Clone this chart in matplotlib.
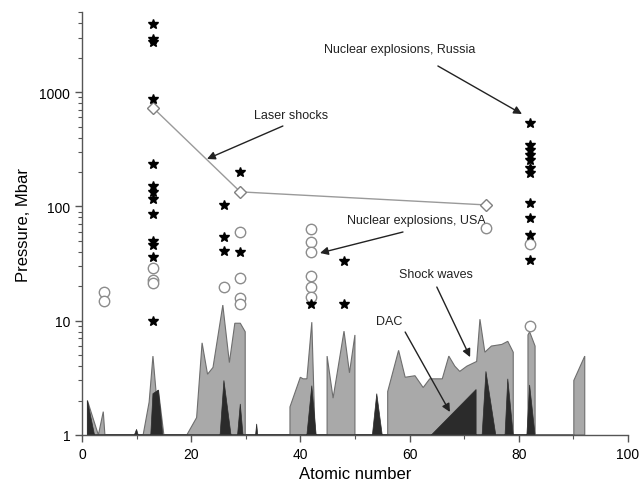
import matplotlib
matplotlib.use("Agg")
import matplotlib.pyplot as plt
import numpy as np
from matplotlib.ticker import FixedLocator, FixedFormatter, LogLocator, NullFormatter, MultipleLocator

plt.rcParams['font.family'] = ['Liberation Sans', 'DejaVu Sans']

# Nuclear explosions (stars)
star_Z = [13]*13 + [26]*3 + [29]*2 + [42] + [48]*2 + [82]*11
star_P = [3940, 2920, 2750, 870, 235, 151, 134, 117, 86, 50, 46, 36, 10,
          103, 54, 41,
          200, 40,
          14,
          33, 14,
          538, 344, 311, 282, 255, 217, 195, 107, 79, 56, 34]

# Nuclear explosions, USA (open circles)
circ_Z = [4, 4, 13, 13, 13, 26, 29, 29, 29, 29, 42, 42, 42, 42, 42, 42, 74, 82, 82]
circ_P = [17.8, 14.9, 29, 22.7, 21.3, 19.7, 60, 23.6, 15.8, 14,
          63, 49, 40, 24.6, 19.7, 16.1, 65, 47, 9.0]

# Laser shocks
laser_Z = [13, 29, 74]
laser_P = [730, 134, 103]

# Shock waves envelope
shock_Z = [1, 1, 3, 3.9, 4.2,
           11.2, 12.3, 13, 13.6, 14, 15,
           19.2, 21, 22, 23, 24, 25.8, 27, 28, 29, 29.9, 29.9,
           38.1, 38.1, 40, 40.5, 41.2, 42.1, 42.7,
           44.9, 44.9, 46, 48, 49, 50, 50,
           56, 56, 58, 59.2, 61, 62.5, 63.7, 65, 66, 67.2, 68.3, 69.2, 70.5, 72.3, 72.9, 73.8, 75, 76.9, 78, 79, 79,
           81.7, 81.7, 82, 83, 83,
           90.1, 90.1, 92.1, 92.1]
shock_P = [1, 2.0, 1, 1.6, 1,
           1, 1.94, 4.9, 2.3, 2.47, 1,
           1, 1.42, 6.4, 3.4, 3.9, 13.7, 4.3, 9.5, 9.5, 8.0, 1,
           1, 1.76, 3.2, 3.1, 3.1, 9.7, 1,
           1, 4.9, 2.1, 8.1, 3.5, 7.5, 1,
           1, 2.4, 5.5, 3.2, 3.3, 2.6, 3.1, 3.1, 3.1, 4.9, 4.0, 3.6, 4.0, 4.4, 10.3, 5.3, 6.0, 6.2, 6.6, 5.3, 1,
           1, 7.5, 8.0, 6.0, 1,
           1, 3.0, 4.9, 1]

# DAC
dac_Z = [1, 1, 2.3,
         9.6, 10, 10.3,
         12.6, 13, 14, 14.8,
         25.3, 26, 27.3,
         28.5, 29, 29.5,
         31.8, 32, 32.2,
         41.2, 42.1, 42.9,
         53.2, 54, 55,
         64, 72.2, 72.2,
         73.3, 74, 75.8,
         77.5, 78, 79,
         81.5, 82, 83]
dac_P = [1, 2.0, 1,
         1, 1.12, 1,
         1, 2.3, 2.47, 1,
         1, 3.0, 1,
         1, 1.87, 1,
         1, 1.25, 1,
         1, 2.7, 1,
         1, 2.3, 1,
         1, 2.5, 1,
         1, 3.6, 1,
         1, 3.1, 1,
         1, 2.74, 1]

fig = plt.figure(figsize=(6.42, 4.89), dpi=100)
ax = fig.add_axes([0.1277, 0.1084, 0.8503, 0.8646])

ax.fill(shock_Z, shock_P, facecolor='#a9a9a9', edgecolor='#6e6e6e', lw=0.8, zorder=1)
ax.fill(dac_Z, dac_P, facecolor='#2b2b2b', edgecolor='#2b2b2b', lw=0.5, zorder=2)

ax.plot(laser_Z, laser_P, color='#9a9a9a', lw=1.0, zorder=3)
ax.plot(laser_Z, laser_P, ls='none', marker='D', ms=6.5, mfc='white', mec='#808080', mew=1.0, zorder=4)
ax.plot(circ_Z, circ_P, ls='none', marker='o', ms=7.5, mfc='white', mec='#8c8c8c', mew=1.0, zorder=4)
ax.plot(star_Z, star_P, ls='none', marker='*', ms=7.5, color='black', zorder=5)

ax.set_yscale('log')
ax.set_xlim(0, 100)
ax.set_ylim(1, 5000)

ax.xaxis.set_major_locator(MultipleLocator(20))
ax.xaxis.set_minor_locator(MultipleLocator(10))
ax.yaxis.set_major_locator(FixedLocator([1, 10, 100, 1000]))
ax.yaxis.set_major_formatter(FixedFormatter(['1', '10', '100', '1000']))
ax.yaxis.set_minor_locator(LogLocator(base=10, subs=np.arange(2, 10)))
ax.yaxis.set_minor_formatter(NullFormatter())

for s in ['top', 'right']:
    ax.spines[s].set_visible(False)
for s in ['left', 'bottom']:
    ax.spines[s].set_color('#555555')
    ax.spines[s].set_linewidth(1.0)

ax.tick_params(axis='both', which='major', direction='out', length=5, width=1, color='#555555', labelsize=10)
ax.tick_params(axis='both', which='minor', direction='out', length=3, width=0.8, color='#555555')

ax.set_xlabel('Atomic number', fontsize=12, labelpad=4)
ax.set_ylabel('Pressure, Mbar', fontsize=12, labelpad=6)

txt_kw = dict(fontsize=9, ha='left', va='center', color='#222222')
arr = dict(arrowstyle='-|>', color='#222222', lw=1.0, mutation_scale=12, shrinkA=0, shrinkB=0)

ax.text(44.3, 2385, 'Nuclear explosions, Russia', **txt_kw)
ax.annotate('', xy=(80.6, 643), xytext=(65.2, 1692), arrowprops=arr)

ax.text(31.5, 631, 'Laser shocks', **txt_kw)
ax.annotate('', xy=(22.9, 260), xytext=(36.8, 505), arrowprops=arr)

ax.text(48.5, 76, 'Nuclear explosions, USA', **txt_kw)
ax.annotate('', xy=(43.6, 39.1), xytext=(58.8, 59.7), arrowprops=arr)

ax.text(58.1, 25.6, 'Shock waves', **txt_kw)
ax.annotate('', xy=(71.1, 4.8), xytext=(65.0, 19.7), arrowprops=arr)

ax.text(53.8, 9.9, 'DAC', **txt_kw)
ax.annotate('', xy=(67.4, 1.59), xytext=(59.2, 7.96), arrowprops=arr)

fig.savefig('out.png', dpi=100)
